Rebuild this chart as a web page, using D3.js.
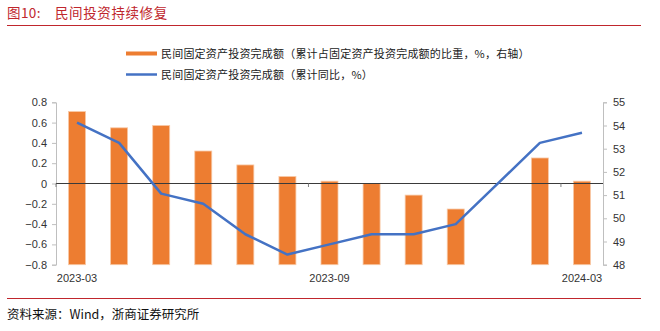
<!DOCTYPE html>
<html>
<head>
<meta charset="utf-8">
<script src="https://cdn.jsdelivr.net/npm/d3@7/dist/d3.min.js"></script>
<style>
  html, body { margin: 0; padding: 0; background: #fff; }
  svg { display: block; }
</style>
</head>
<body>
<svg id="chart" width="660" height="331"></svg>
<script>
// Monthly cumulative figures, private fixed-asset investment
const months = ["2023-03","2023-04","2023-05","2023-06","2023-07","2023-08","2023-09",
                "2023-10","2023-11","2023-12","2024-01","2024-02","2024-03"];
const shareOfTotal = [54.6, 53.9, 54.0, 52.9, 52.3, 51.8, 51.6, 51.5, 51.0, 50.4, null, 52.6, 51.6]; // %, right axis
const yoyGrowth = [0.6, 0.4, -0.1, -0.2, -0.5, -0.7, -0.6, -0.5, -0.5, -0.4, null, 0.4, 0.5];         // %, left axis
const leftTicks = [0.8, 0.6, 0.4, 0.2, 0, -0.2, -0.4, -0.6, -0.8];
const rightTicks = [48, 49, 50, 51, 52, 53, 54, 55];
const shownMonths = ["2023-03", "2023-09", "2024-03"];

const barName = "民间固定资产投资完成额（累计占固定资产投资完成额的比重，%，右轴）";
const lineName = "民间固定资产投资完成额（累计同比，%）";

const svg = d3.select("#chart");
const red = "#C0262D";
const cjk = "'Noto Sans CJK SC', 'Noto Sans', sans-serif";
const latin = "'Liberation Sans', Arial, sans-serif";

// Title and rules
svg.append("text").attr("x", 7).attr("y", 18)
  .attr("font-family", cjk).attr("font-size", 13.5).attr("fill", red)
  .attr("letter-spacing", 0.4)
  .text("图10:");
svg.append("text").attr("x", 55).attr("y", 18)
  .attr("font-family", cjk).attr("font-size", 13.5).attr("fill", red)
  .attr("letter-spacing", 0.6)
  .text("民间投资持续修复");
svg.append("line").attr("x1", 7).attr("x2", 641).attr("y1", 25.5).attr("y2", 25.5)
  .attr("stroke", red).attr("stroke-width", 1.2);
svg.append("line").attr("x1", 7).attr("x2", 641).attr("y1", 298.5).attr("y2", 298.5)
  .attr("stroke", red).attr("stroke-width", 1.2);
svg.append("text").attr("x", 7).attr("y", 319)
  .attr("font-family", cjk).attr("font-size", 12.5).attr("fill", "#111")
  .text("资料来源：Wind，浙商证券研究所");

// Legend
const legend = svg.append("g").attr("font-family", cjk).attr("font-size", 11).attr("fill", "#222");
legend.append("rect").attr("x", 126).attr("y", 51.5).attr("width", 31).attr("height", 4).attr("fill", "#ED7D31");
legend.append("text").attr("x", 161).attr("y", 57.5).attr("letter-spacing", 0.2).text(barName);
legend.append("line").attr("x1", 126).attr("x2", 157).attr("y1", 74.5).attr("y2", 74.5)
  .attr("stroke", "#4472C4").attr("stroke-width", 2.5);
legend.append("text").attr("x", 161).attr("y", 78.5).attr("letter-spacing", 0.2).text(lineName);

// Plot area
const x0 = 56, x1 = 603, yTop = 102.3, yBot = 264.7;
const x = d3.scaleBand().domain(months).range([x0, x1]).paddingInner(0).paddingOuter(0);
const yL = d3.scaleLinear().domain([-0.8, 0.8]).range([yBot, yTop]);
const yR = d3.scaleLinear().domain([48, 55]).range([yBot, yTop]);

// Bars (right axis)
const barW = 17;
svg.append("g").selectAll("rect")
  .data(months.map((m, i) => ({ m, v: shareOfTotal[i] })).filter(d => d.v != null))
  .join("rect")
  .attr("x", d => x(d.m) + x.bandwidth() / 2 - barW / 2)
  .attr("width", barW)
  .attr("y", d => yR(d.v))
  .attr("height", d => yR(48) - yR(d.v))
  .attr("fill", "#ED7D31")
  .attr("stroke", "#F8C9A6").attr("stroke-width", 0.8);

// Left axis
const axL = svg.append("g").attr("transform", `translate(${x0},0)`)
  .call(d3.axisLeft(yL).tickValues(leftTicks).tickSize(4).tickPadding(5)
    .tickFormat(d => d === 0 ? "0" : d3.format(".1f")(d)));
axL.select(".domain").attr("stroke", "#bfbfbf");
axL.selectAll(".tick line").attr("stroke", "#bfbfbf");
axL.selectAll("text").attr("font-family", latin).attr("font-size", 11).attr("fill", "#333");

// Right axis
const axR = svg.append("g").attr("transform", `translate(${x1},0)`)
  .call(d3.axisRight(yR).tickValues(rightTicks).tickSize(4).tickPadding(6).tickFormat(d3.format("d")));
axR.select(".domain").attr("stroke", "#bfbfbf");
axR.selectAll(".tick line").attr("stroke", "#bfbfbf");
axR.selectAll("text").attr("font-family", latin).attr("font-size", 11).attr("fill", "#333");

// Category axis at zero
const zeroY = yL(0);
svg.append("line").attr("x1", x0).attr("x2", x1).attr("y1", zeroY).attr("y2", zeroY)
  .attr("stroke", "#3a3a3a").attr("stroke-width", 1);
svg.append("g").selectAll("line")
  .data(shownMonths)
  .join("line")
  .attr("x1", d => x(d)).attr("x2", d => x(d))
  .attr("y1", zeroY).attr("y2", zeroY + 3.5)
  .attr("stroke", "#7f7f7f").attr("stroke-width", 1);
svg.append("g").selectAll("text")
  .data(shownMonths)
  .join("text")
  .attr("x", d => x(d) + x.bandwidth() / 2)
  .attr("y", 282)
  .attr("text-anchor", "middle")
  .attr("font-family", latin).attr("font-size", 11).attr("fill", "#333")
  .text(d => d);

// Growth line (left axis), gap month bridged
const pts = months.map((m, i) => ({ m, v: yoyGrowth[i] })).filter(d => d.v != null);
svg.append("path")
  .datum(pts)
  .attr("fill", "none")
  .attr("stroke", "#4472C4")
  .attr("stroke-width", 2.5)
  .attr("stroke-linejoin", "round")
  .attr("d", d3.line().x(d => x(d.m) + x.bandwidth() / 2).y(d => yL(d.v)));
</script>
</body>
</html>
